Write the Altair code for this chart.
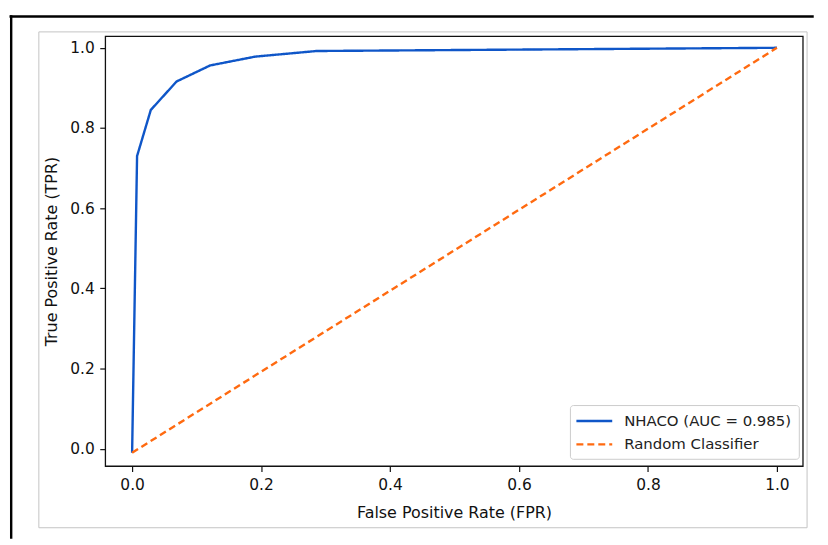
import altair as alt
import pandas as pd

# ---- data ----
model_label = "NHACO (AUC = 0.985)"
random_label = "Random Classifier"
model_fpr = [0.0, 0.0077, 0.029, 0.069, 0.121, 0.191, 0.286, 1.0]
model_tpr = [-0.01, 0.73, 0.845, 0.916, 0.956, 0.978, 0.992, 1.0]
random_fpr = [0.0, 1.0]
random_tpr = [-0.01, 1.0]
x_ticks = [0.0, 0.2, 0.4, 0.6, 0.8, 1.0]
y_ticks = [0.0, 0.2, 0.4, 0.6, 0.8, 1.0]
x_title = "False Positive Rate (FPR)"
y_title = "True Positive Rate (TPR)"

BLUE = "#0f56c8"
ORANGE = "#ff6a10"
FONT = "DejaVu Sans"

rows = []
for i, (fx, ty) in enumerate(zip(model_fpr, model_tpr)):
    rows.append({"fpr": fx, "tpr": ty, "series": model_label, "i": i})
for i, (fx, ty) in enumerate(zip(random_fpr, random_tpr)):
    rows.append({"fpr": fx, "tpr": ty, "series": random_label, "i": i})
df = pd.DataFrame(rows)

W, H = 701, 432
x_dom = [-0.0417, 1.0401]
y_dom = [-0.0432, 1.029]

legend = alt.Legend(
    title=None,
    orient="none",
    legendX=467,
    legendY=370.7,
    padding=6.5,
    fillColor="white",
    strokeColor="#cccccc",
    cornerRadius=3,
    labelFont=FONT,
    labelFontSize=15,
    labelColor="#222222",
    labelLimit=400,
    symbolType="M-2.25,0H2.25",
    symbolSize=256,
    symbolStrokeWidth=2.4,
    symbolOffset=8.5,
    labelOffset=20.5,
    rowPadding=5.5,
)

series_domain = [model_label, random_label]

lines = alt.Chart(df).mark_line(strokeWidth=2.4).encode(
    x=alt.X(
        "fpr:Q",
        scale=alt.Scale(domain=x_dom, nice=False, zero=False),
        axis=alt.Axis(values=x_ticks, format=".1f", title=x_title,
                      titlePadding=12, labelPadding=6, tickSize=5.5),
    ),
    y=alt.Y(
        "tpr:Q",
        scale=alt.Scale(domain=y_dom, nice=False, zero=False),
        axis=alt.Axis(values=y_ticks, format=".1f", title=y_title,
                      titlePadding=10, labelPadding=5.5, tickSize=5.5),
    ),
    color=alt.Color("series:N",
                    scale=alt.Scale(domain=series_domain, range=[BLUE, ORANGE]),
                    legend=legend),
    strokeDash=alt.StrokeDash("series:N",
                              scale=alt.Scale(domain=series_domain, range=[[1, 0], [7, 4]]),
                              legend=legend),
    order=alt.Order("i:Q"),
)

one = pd.DataFrame({"k": [0]})
gray_box = alt.Chart(one).mark_rect(fillOpacity=0, stroke="#c4c4c4", strokeWidth=1).encode(
    x=alt.value(-66.7), x2=alt.value(705.3), y=alt.value(-4.3), y2=alt.value(494)
)
top_line = alt.Chart(one).mark_rule(color="black", strokeWidth=2.4).encode(
    x=alt.value(-96.2), x2=alt.value(712), y=alt.value(-19.8)
)
left_line = alt.Chart(one).mark_rule(color="black", strokeWidth=2.4).encode(
    x=alt.value(-94.5), y=alt.value(-21), y2=alt.value(505)
)

chart = alt.layer(gray_box, top_line, left_line, lines).properties(
    width=W,
    height=H,
    padding={"left": 97.7, "top": 27, "right": 17.3, "bottom": 73.3},
    autosize=alt.AutoSizeParams(type="none"),
    background="white",
).configure_view(
    stroke="#111111", strokeWidth=1.3
).configure_axis(
    grid=False,
    domain=False,
    labelFont=FONT,
    labelFontSize=15.5,
    labelColor="#111111",
    labelFlush=False,
    labelOverlap=False,
    titleFont=FONT,
    titleFontSize=16,
    titleFontWeight="normal",
    titleColor="#111111",
    tickColor="#111111",
    tickWidth=1.2,
)

chart.save("out.html", embed_options={"renderer": "svg", "actions": False})
